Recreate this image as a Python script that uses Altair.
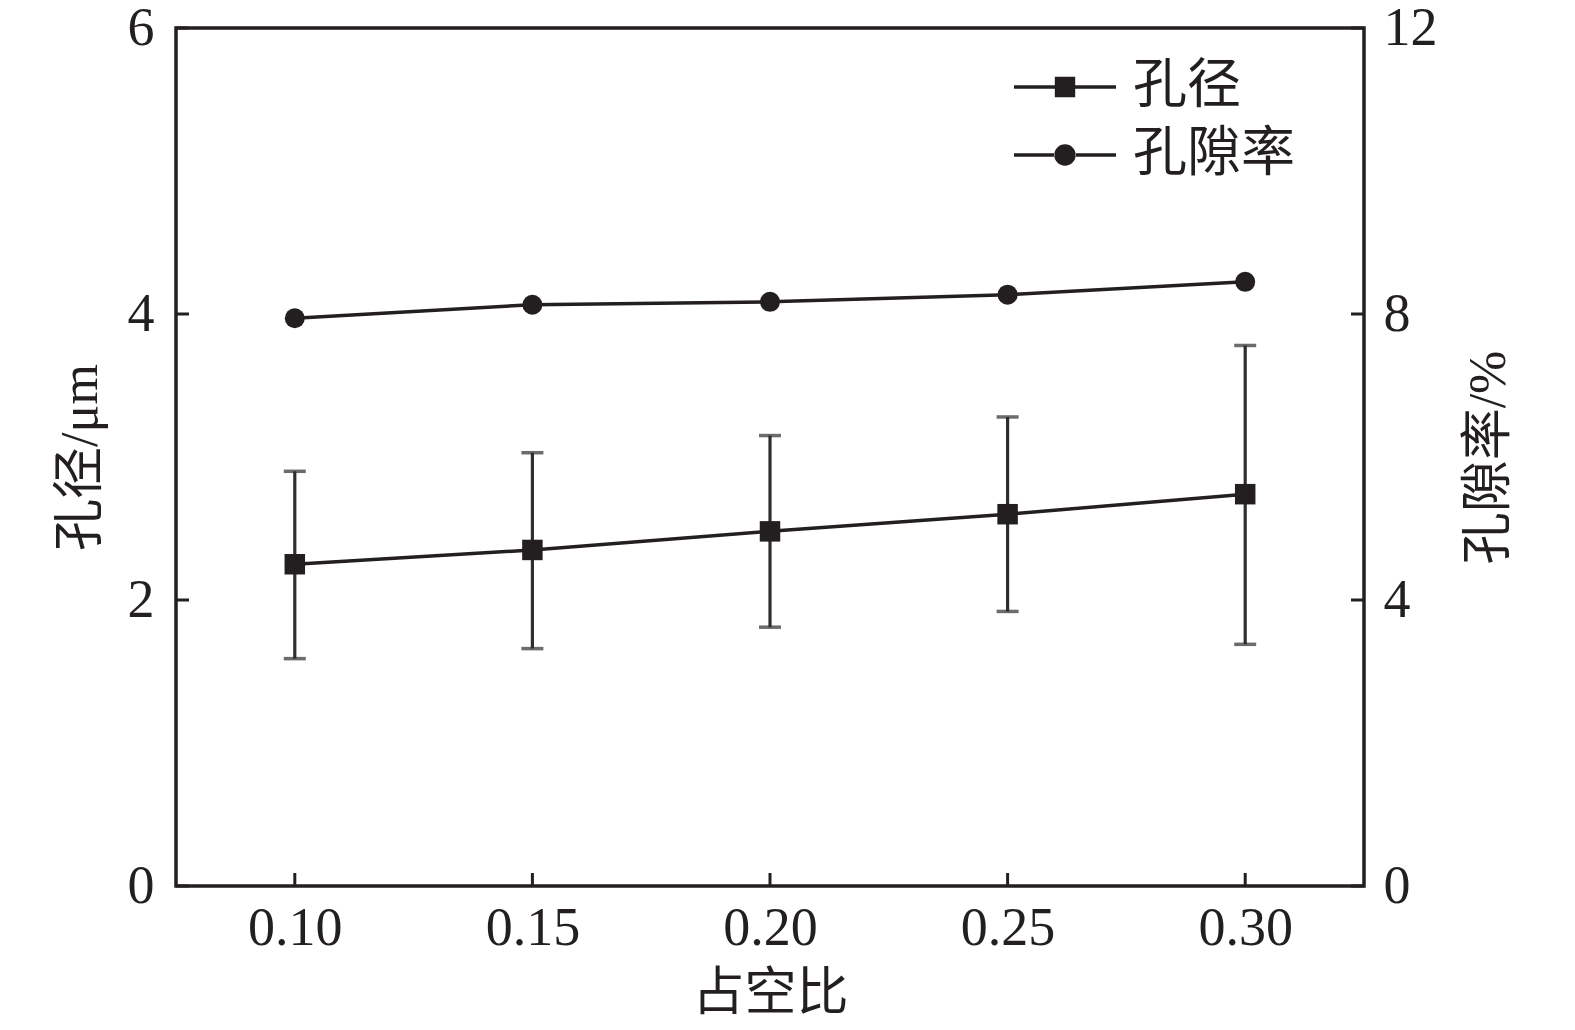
import altair as alt
import pandas as pd

duty = [0.10, 0.15, 0.20, 0.25, 0.30]
pore = [2.25, 2.35, 2.48, 2.60, 2.74]
pore_hi = [2.90, 3.03, 3.15, 3.28, 3.78]
pore_lo = [1.59, 1.66, 1.81, 1.92, 1.69]
porosity = [7.94, 8.13, 8.17, 8.27, 8.45]
series = ["孔径", "孔隙率"]
x_ticks = [0.10, 0.15, 0.20, 0.25, 0.30]
left_ticks = [0, 2, 4, 6]
right_ticks = [0, 4, 8, 12]

FONT = "Liberation Serif, Noto Sans CJK SC"
INK = "#231f20"
BAR = "#2e2e2e"
W, H = 1188, 858
LW = 3.5

df = pd.DataFrame({"duty": duty, "pore": pore, "hi": pore_hi, "lo": pore_lo,
                   "porosity": porosity})
xt = pd.DataFrame({"t": x_ticks})
lt = pd.DataFrame({"t": left_ticks})
rt = pd.DataFrame({"t": right_ticks})
leg = pd.DataFrame({"series": series, "duty": [duty[0]] * 2, "pore": [pore[0]] * 2})

xscale = alt.Scale(domain=[0.075, 0.325], nice=False, zero=False)
xaxis = alt.Axis(values=x_ticks, format=".2f", title="占空比", ticks=False,
                 domain=False, grid=False, labelPadding=15, titlePadding=13,
                 labelFontSize=54, titleFontSize=52, labelFont=FONT,
                 titleFont=FONT, labelColor=INK, titleColor=INK,
                 titleFontWeight="normal")

lscale = alt.Scale(domain=[0, 6], nice=False, zero=False)
laxis = alt.Axis(values=left_ticks, format="d", title="孔径/μm", ticks=False,
                 domain=False, grid=False, labelPadding=22, titlePadding=20,
                 labelFontSize=54, titleFontSize=52, labelFont=FONT,
                 titleFont=FONT, labelColor=INK, titleColor=INK,
                 titleFontWeight="normal", orient="left")

rscale = alt.Scale(domain=[0, 12], nice=False, zero=False)
raxis = alt.Axis(values=right_ticks, format="d", title="孔隙率/%", ticks=False,
                 domain=False, grid=False, labelPadding=19, titlePadding=26,
                 labelFontSize=54, titleFontSize=52, labelFont=FONT,
                 titleFont=FONT, labelColor=INK, titleColor=INK,
                 titleFontWeight="normal", orient="right", titleAngle=270,
                 titleBaseline="top")

sq_path = "M-5,-0.17H-1V0.17H-5Z M1,-0.17H5V0.17H1Z M-1,-1H1V1H-1Z"
ci_path = ("M-5,-0.17H-1V0.17H-5Z M1,-0.17H5V0.17H1Z "
           "M-1.05,0A1.05,1.05 0 1,0 1.05,0A1.05,1.05 0 1,0 -1.05,0Z")

base = alt.Chart(df)
X = alt.X("duty:Q", scale=xscale, axis=xaxis)

pore_line = base.mark_line(color=INK, strokeWidth=LW).encode(
    x=X, y=alt.Y("pore:Q", scale=lscale, axis=laxis))
err = base.mark_rule(color=BAR, strokeWidth=3.2).encode(
    x=X, y=alt.Y("lo:Q", scale=lscale, axis=laxis), y2="hi:Q")
cap_hi = base.mark_tick(color=BAR, thickness=3.5, size=22, orient="horizontal").encode(
    x=X, y=alt.Y("hi:Q", scale=lscale, axis=laxis))
cap_lo = base.mark_tick(color=BAR, thickness=3.5, size=22, orient="horizontal").encode(
    x=X, y=alt.Y("lo:Q", scale=lscale, axis=laxis))
pore_pts = base.mark_point(filled=True, opacity=1, color=INK, shape="square",
                           size=420).encode(
    x=X, y=alt.Y("pore:Q", scale=lscale, axis=laxis))
xtick_rules = alt.Chart(xt).mark_rule(color=INK, strokeWidth=3).encode(
    x=alt.X("t:Q", scale=xscale, axis=xaxis),
    y=alt.value(H), y2=alt.value(H - 13))
ltick_rules = alt.Chart(lt).mark_rule(color=INK, strokeWidth=3).encode(
    y=alt.Y("t:Q", scale=lscale, axis=laxis),
    x=alt.value(0), x2=alt.value(13))
legend_layer = alt.Chart(leg).mark_point(filled=True, opacity=0, color=INK).encode(
    x=X, y=alt.Y("pore:Q", scale=lscale, axis=laxis),
    shape=alt.Shape("series:N",
                    scale=alt.Scale(domain=series, range=[sq_path, ci_path]),
                    sort=series,
                    legend=alt.Legend(title=None, orient="none", legendX=862,
                                      legendY=32, symbolSize=416,
                                      labelFontSize=54, labelFont=FONT,
                                      labelColor=INK, labelOffset=41,
                                      labelLimit=0,
                                      rowPadding=14, padding=0,
                                      symbolStrokeWidth=0, symbolOpacity=1,
                                      symbolFillColor=INK)))

left = alt.layer(err, cap_hi, cap_lo, pore_line, pore_pts, xtick_rules,
                 ltick_rules, legend_layer)

rbase = alt.Chart(df)
por_line = rbase.mark_line(color=INK, strokeWidth=LW).encode(
    x=X, y=alt.Y("porosity:Q", scale=rscale, axis=raxis))
por_pts = rbase.mark_point(filled=True, opacity=1, color=INK, shape="circle",
                           size=400).encode(
    x=X, y=alt.Y("porosity:Q", scale=rscale, axis=raxis))
rtick_rules = alt.Chart(rt).mark_rule(color=INK, strokeWidth=3).encode(
    y=alt.Y("t:Q", scale=rscale, axis=raxis),
    x=alt.value(W), x2=alt.value(W - 13))
right = alt.layer(por_line, por_pts, rtick_rules)

chart = alt.layer(left, right).resolve_scale(y="independent").properties(
    width=W, height=H,
    autosize=alt.AutoSizeParams(type="none"),
    padding={"left": 168, "top": 20, "right": 190, "bottom": 142},
    background="white",
).configure_view(stroke=INK, strokeWidth=3.5).configure_legend(
    symbolOpacity=1)

chart.save("out.html", embed_options={"renderer": "svg", "actions": False})
